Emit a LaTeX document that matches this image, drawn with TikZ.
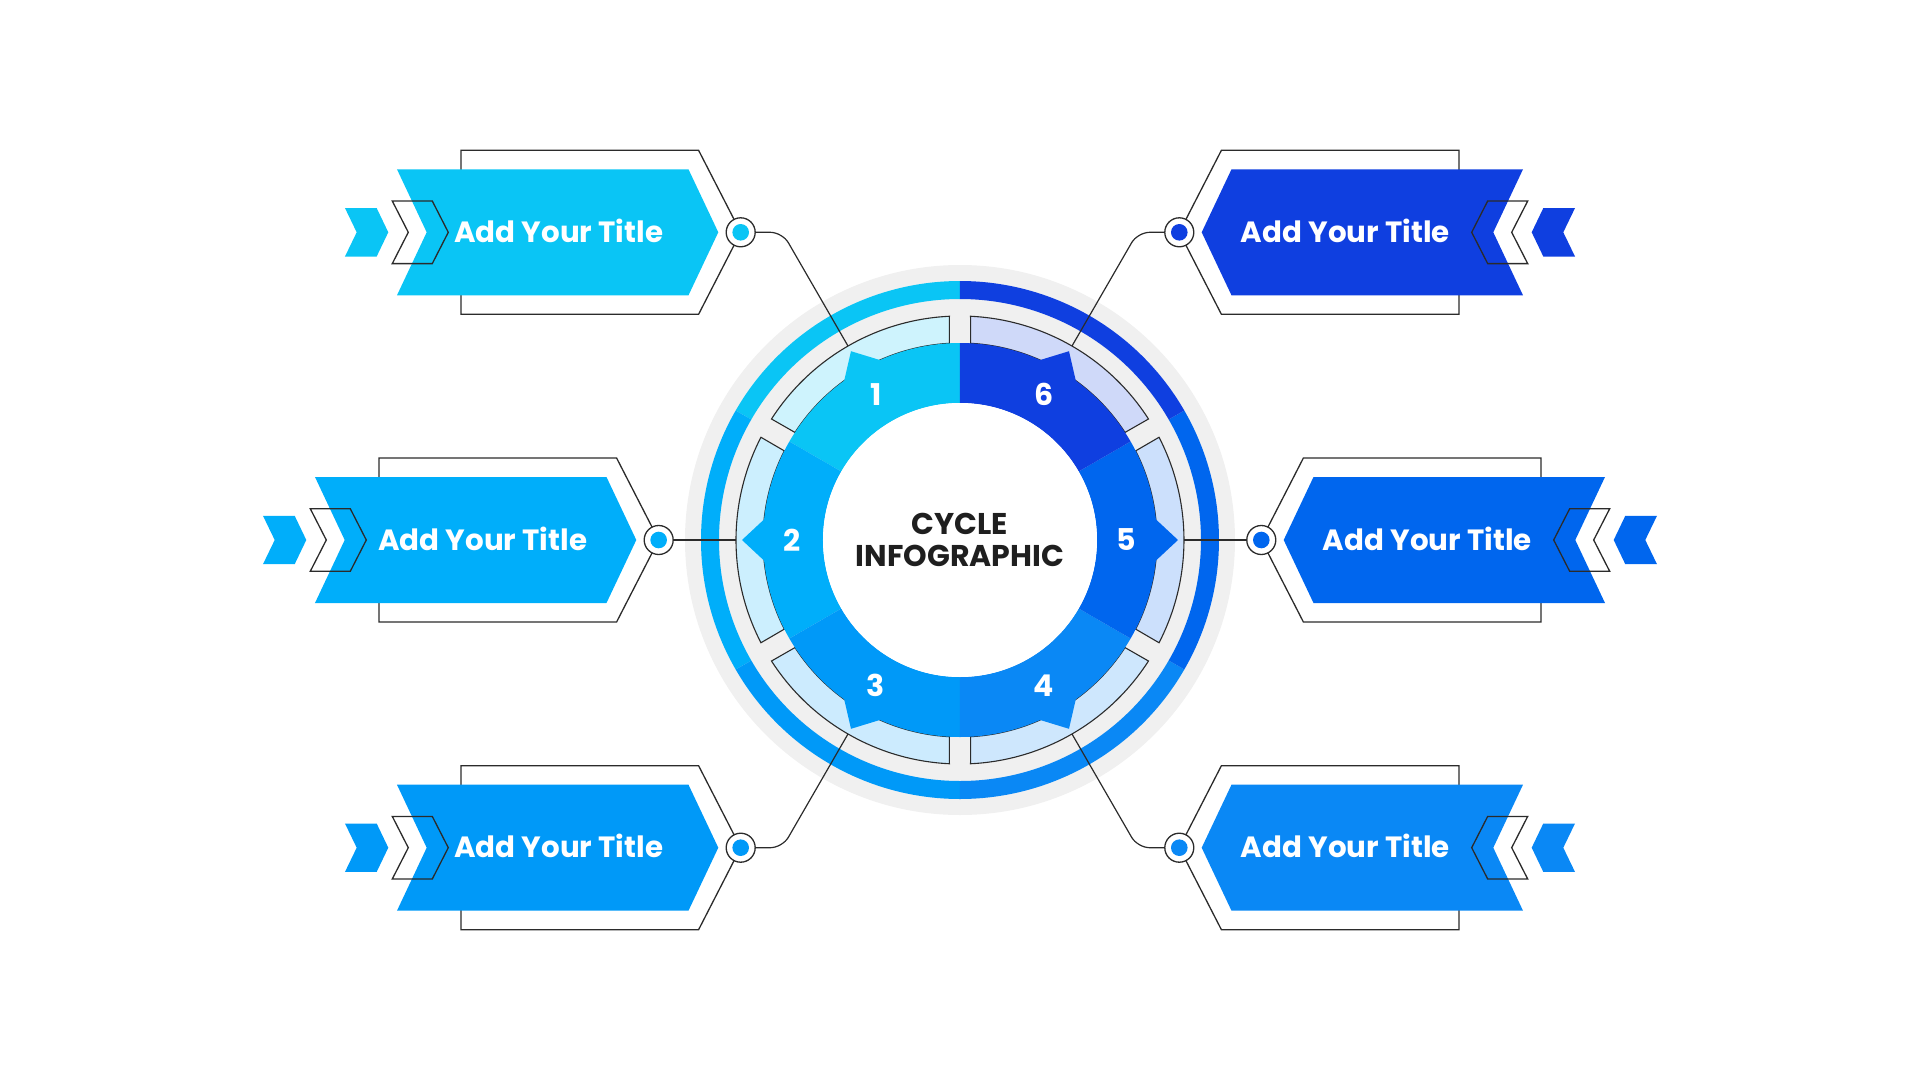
\documentclass[tikz,border=0pt]{standalone}
\usepackage{fontspec}
\setmainfont{Poppins}
\usepackage{xcolor}
\usepackage{tikz}

\definecolor{tone1}{HTML}{0AC5F5}
\definecolor{tone2}{HTML}{00AEFA}
\definecolor{tone3}{HTML}{0099F8}
\definecolor{tone4}{HTML}{0A88F5}
\definecolor{tone5}{HTML}{0066EE}
\definecolor{tone6}{HTML}{0F3FE0}
\definecolor{ringgray}{HTML}{F0F0F0}
\definecolor{ink}{HTML}{2B2B2B}

\tikzset{
  boxframe/.style={draw=ink, line width=1.3pt},
  boxchev/.style={draw=ink, line width=1.3pt},
  hubdot/.style={circle, draw=ink, line width=1.3pt, fill=white, minimum size=29pt, inner sep=0pt},
  conn/.style={draw=ink, line width=1.2pt},
  segline/.style={draw=ink, line width=1.1pt},
  boxtitle/.style={text=white, font=\fontsize{29.3}{36}\selectfont\bfseries, anchor=base},
  segnum/.style={text=white, font=\fontsize{30}{36}\selectfont\bfseries},
}

\begin{document}
\begin{tikzpicture}[x=1pt,y=1pt]
  \useasboundingbox (-960,-540) rectangle (960,540);
  % rings
  \fill[ringgray] (0,0) circle (275);
  \fill[tone1] (90:241) -- (90:259) arc[start angle=90,end angle=150,radius=259] -- (150:241) arc[start angle=150,end angle=90,radius=241] -- cycle;
  \fill[tone2] (150:241) -- (150:259) arc[start angle=150,end angle=210,radius=259] -- (210:241) arc[start angle=210,end angle=150,radius=241] -- cycle;
  \fill[tone3] (210:241) -- (210:259) arc[start angle=210,end angle=270,radius=259] -- (270:241) arc[start angle=270,end angle=210,radius=241] -- cycle;
  \fill[tone4] (270:241) -- (270:259) arc[start angle=270,end angle=330,radius=259] -- (330:241) arc[start angle=330,end angle=270,radius=241] -- cycle;
  \fill[tone5] (-30:241) -- (-30:259) arc[start angle=-30,end angle=30,radius=259] -- (30:241) arc[start angle=30,end angle=-30,radius=241] -- cycle;
  \fill[tone6] (30:241) -- (30:259) arc[start angle=30,end angle=90,radius=259] -- (90:241) arc[start angle=90,end angle=30,radius=241] -- cycle;
  % light segments
  \filldraw[segline, fill=tone1!20] (93.1:197) -- (92.7:224) arc[start angle=92.7,end angle=147.3,radius=224] -- (146.9:197) arc[start angle=146.9,end angle=93.1,radius=197] -- cycle;
  \filldraw[segline, fill=tone2!20] (153.1:197) -- (152.7:224) arc[start angle=152.7,end angle=207.3,radius=224] -- (206.9:197) arc[start angle=206.9,end angle=153.1,radius=197] -- cycle;
  \filldraw[segline, fill=tone3!20] (213.1:197) -- (212.7:224) arc[start angle=212.7,end angle=267.3,radius=224] -- (266.9:197) arc[start angle=266.9,end angle=213.1,radius=197] -- cycle;
  \filldraw[segline, fill=tone4!20] (273.1:197) -- (272.7:224) arc[start angle=272.7,end angle=327.3,radius=224] -- (326.9:197) arc[start angle=326.9,end angle=273.1,radius=197] -- cycle;
  \filldraw[segline, fill=tone5!20] (-26.9:197) -- (-27.3:224) arc[start angle=-27.3,end angle=27.3,radius=224] -- (26.9:197) arc[start angle=26.9,end angle=-26.9,radius=197] -- cycle;
  \filldraw[segline, fill=tone6!20] (33.1:197) -- (32.7:224) arc[start angle=32.7,end angle=87.3,radius=224] -- (86.9:197) arc[start angle=86.9,end angle=33.1,radius=197] -- cycle;
  % coloured segments
  \fill[tone1] (90:137) -- (90:197) arc[start angle=90,end angle=114,radius=197] -- (120:218) -- (126:197) arc[start angle=126,end angle=150,radius=197] -- (150:137) arc[start angle=150,end angle=90,radius=137] -- cycle;
  \fill[tone2] (150:137) -- (150:197) arc[start angle=150,end angle=174,radius=197] -- (180:218) -- (186:197) arc[start angle=186,end angle=210,radius=197] -- (210:137) arc[start angle=210,end angle=150,radius=137] -- cycle;
  \fill[tone3] (210:137) -- (210:197) arc[start angle=210,end angle=234,radius=197] -- (240:218) -- (246:197) arc[start angle=246,end angle=270,radius=197] -- (270:137) arc[start angle=270,end angle=210,radius=137] -- cycle;
  \fill[tone4] (270:137) -- (270:197) arc[start angle=270,end angle=294,radius=197] -- (300:218) -- (306:197) arc[start angle=306,end angle=330,radius=197] -- (330:137) arc[start angle=330,end angle=270,radius=137] -- cycle;
  \fill[tone5] (-30:137) -- (-30:197) arc[start angle=-30,end angle=-6,radius=197] -- (0:218) -- (6:197) arc[start angle=6,end angle=30,radius=197] -- (30:137) arc[start angle=30,end angle=-30,radius=137] -- cycle;
  \fill[tone6] (30:137) -- (30:197) arc[start angle=30,end angle=54,radius=197] -- (60:218) -- (66:197) arc[start angle=66,end angle=90,radius=197] -- (90:137) arc[start angle=90,end angle=30,radius=137] -- cycle;
  \fill[white] (0,0) circle (137);
  \node[segnum] (n1) at (120:168) {1};
  \node[segnum] (n2) at (180:168) {2};
  \node[segnum] (n3) at (240:168) {3};
  \node[segnum] (n4) at (300:168) {4};
  \node[segnum] (n5) at (0:166) {5};
  \node[segnum] (n6) at (60:168) {6};
  \node[align=center, text=black!88, font=\fontsize{30}{32.6}\selectfont\bfseries] (hub) at (0,0) {CYCLE\\INFOGRAPHIC};
  % ends of the connectors
  \coordinate (p1) at (120:224);
  \coordinate (p2) at (180:224);
  \coordinate (p3) at (240:224);
  \coordinate (p4) at (300:224);
  \coordinate (p5) at (0:224);
  \coordinate (p6) at (60:224);
  % box 1
  \begin{scope}[shift={(-219.3,307.7)}]
    \draw[boxframe] (0,0) -- (-42.1,82) -- (-279.7,82) -- (-279.7,-82) -- (-42.1,-82) -- cycle;
    \fill[tone1] (-22.4,0) -- (-52.2,63) -- (-343.7,63) -- (-314,0) -- (-343.7,-63) -- (-52.2,-63) -- cycle;
    \fill[tone1] (-352.4,0) -- (-364,24.2) -- (-395.7,24.2) -- (-384,0) -- (-395.7,-24.2) -- (-364,-24.2) -- cycle;
    \draw[boxchev] (-292.4,0) -- (-308.4,31.3) -- (-348.4,31.3) -- (-332.4,0) -- (-348.4,-31.3) -- (-308.4,-31.3) -- cycle;
    \node[hubdot] (d1) at (0,0) {};
    \fill[tone1] (d1) circle (8.3);
    \node[boxtitle] (t1) at (-182,-10.2) {Add Your Title};
  \end{scope}
  % box 2
  \begin{scope}[shift={(-301.3,0)}]
    \draw[boxframe] (0,0) -- (-42.1,82) -- (-279.7,82) -- (-279.7,-82) -- (-42.1,-82) -- cycle;
    \fill[tone2] (-22.4,0) -- (-52.2,63) -- (-343.7,63) -- (-314,0) -- (-343.7,-63) -- (-52.2,-63) -- cycle;
    \fill[tone2] (-352.4,0) -- (-364,24.2) -- (-395.7,24.2) -- (-384,0) -- (-395.7,-24.2) -- (-364,-24.2) -- cycle;
    \draw[boxchev] (-292.4,0) -- (-308.4,31.3) -- (-348.4,31.3) -- (-332.4,0) -- (-348.4,-31.3) -- (-308.4,-31.3) -- cycle;
    \node[hubdot] (d2) at (0,0) {};
    \fill[tone2] (d2) circle (8.3);
    \node[boxtitle] (t2) at (-176,-10.2) {Add Your Title};
  \end{scope}
  % box 3
  \begin{scope}[shift={(-219.3,-307.7)}]
    \draw[boxframe] (0,0) -- (-42.1,82) -- (-279.7,82) -- (-279.7,-82) -- (-42.1,-82) -- cycle;
    \fill[tone3] (-22.4,0) -- (-52.2,63) -- (-343.7,63) -- (-314,0) -- (-343.7,-63) -- (-52.2,-63) -- cycle;
    \fill[tone3] (-352.4,0) -- (-364,24.2) -- (-395.7,24.2) -- (-384,0) -- (-395.7,-24.2) -- (-364,-24.2) -- cycle;
    \draw[boxchev] (-292.4,0) -- (-308.4,31.3) -- (-348.4,31.3) -- (-332.4,0) -- (-348.4,-31.3) -- (-308.4,-31.3) -- cycle;
    \node[hubdot] (d3) at (0,0) {};
    \fill[tone3] (d3) circle (8.3);
    \node[boxtitle] (t3) at (-182,-10.2) {Add Your Title};
  \end{scope}
  % box 4
  \begin{scope}[shift={(219.3,-307.7)}, xscale=-1]
    \draw[boxframe] (0,0) -- (-42.1,82) -- (-279.7,82) -- (-279.7,-82) -- (-42.1,-82) -- cycle;
    \fill[tone4] (-22.4,0) -- (-52.2,63) -- (-343.7,63) -- (-314,0) -- (-343.7,-63) -- (-52.2,-63) -- cycle;
    \fill[tone4] (-352.4,0) -- (-364,24.2) -- (-395.7,24.2) -- (-384,0) -- (-395.7,-24.2) -- (-364,-24.2) -- cycle;
    \draw[boxchev] (-292.4,0) -- (-308.4,31.3) -- (-348.4,31.3) -- (-332.4,0) -- (-348.4,-31.3) -- (-308.4,-31.3) -- cycle;
    \node[hubdot] (d4) at (0,0) {};
    \fill[tone4] (d4) circle (8.3);
    \node[boxtitle] (t4) at (-166,-10.2) {Add Your Title};
  \end{scope}
  % box 5
  \begin{scope}[shift={(301.3,0)}, xscale=-1]
    \draw[boxframe] (0,0) -- (-42.1,82) -- (-279.7,82) -- (-279.7,-82) -- (-42.1,-82) -- cycle;
    \fill[tone5] (-22.4,0) -- (-52.2,63) -- (-343.7,63) -- (-314,0) -- (-343.7,-63) -- (-52.2,-63) -- cycle;
    \fill[tone5] (-352.4,0) -- (-364,24.2) -- (-395.7,24.2) -- (-384,0) -- (-395.7,-24.2) -- (-364,-24.2) -- cycle;
    \draw[boxchev] (-292.4,0) -- (-308.4,31.3) -- (-348.4,31.3) -- (-332.4,0) -- (-348.4,-31.3) -- (-308.4,-31.3) -- cycle;
    \node[hubdot] (d5) at (0,0) {};
    \fill[tone5] (d5) circle (8.3);
    \node[boxtitle] (t5) at (-166,-10.2) {Add Your Title};
  \end{scope}
  % box 6
  \begin{scope}[shift={(219.3,307.7)}, xscale=-1]
    \draw[boxframe] (0,0) -- (-42.1,82) -- (-279.7,82) -- (-279.7,-82) -- (-42.1,-82) -- cycle;
    \fill[tone6] (-22.4,0) -- (-52.2,63) -- (-343.7,63) -- (-314,0) -- (-343.7,-63) -- (-52.2,-63) -- cycle;
    \fill[tone6] (-352.4,0) -- (-364,24.2) -- (-395.7,24.2) -- (-384,0) -- (-395.7,-24.2) -- (-364,-24.2) -- cycle;
    \draw[boxchev] (-292.4,0) -- (-308.4,31.3) -- (-348.4,31.3) -- (-332.4,0) -- (-348.4,-31.3) -- (-308.4,-31.3) -- cycle;
    \node[hubdot] (d6) at (0,0) {};
    \fill[tone6] (d6) circle (8.3);
    \node[boxtitle] (t6) at (-166,-10.2) {Add Your Title};
  \end{scope}
  % connectors
  \draw[conn, rounded corners=12] (d1.east) -- (120:355.3) -- (p1);
  \draw[conn] (d2.east) -- (p2);
  \draw[conn, rounded corners=12] (d3.east) -- (240:355.3) -- (p3);
  \draw[conn, rounded corners=12] (d4.west) -- (300:355.3) -- (p4);
  \draw[conn] (d5.west) -- (p5);
  \draw[conn, rounded corners=12] (d6.west) -- (60:355.3) -- (p6);
\end{tikzpicture}
\end{document}
